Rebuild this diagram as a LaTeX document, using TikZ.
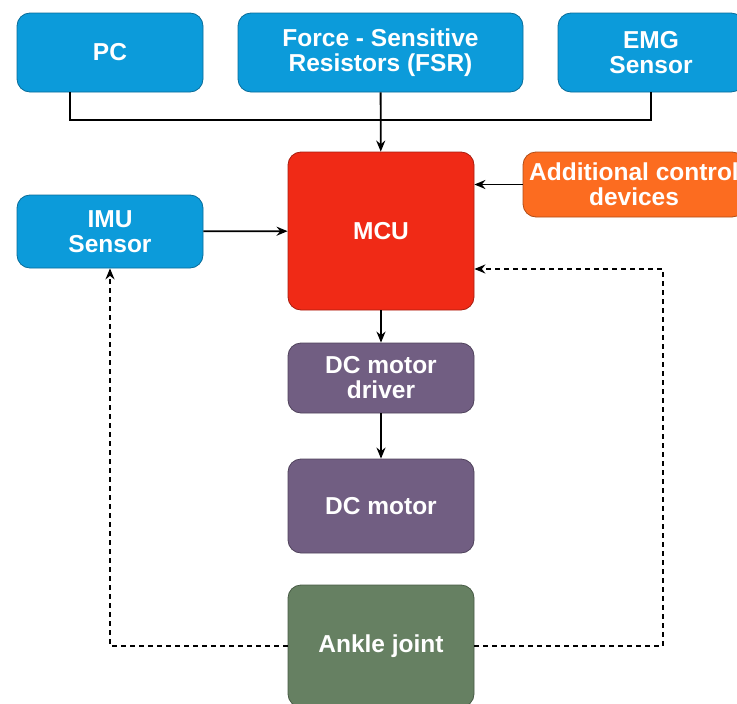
\documentclass[tikz,border=0pt]{standalone}
\usepackage{fontspec}
\setmainfont{Liberation Sans}
\usetikzlibrary{arrows.meta}
\definecolor{boxblue}{RGB}{12,155,218}
\definecolor{boxred}{RGB}{240,42,22}
\definecolor{boxorange}{RGB}{252,108,32}
\definecolor{boxpurple}{RGB}{113,94,130}
\definecolor{boxgreen}{RGB}{102,128,98}
\begin{document}
\begin{tikzpicture}[x=1pt, y=-1pt, line width=1.8pt, >={Stealth[length=11pt,width=9pt]},
	block/.style={rectangle, rounded corners=13pt, draw=#1!70!black, fill=#1, line width=0.8pt, text=white, font=\fontsize{24.5}{25}\selectfont\bfseries, align=center, inner sep=0pt},
	feedback/.style={dash pattern=on 5pt off 4pt}]
	\clip (0,0) rectangle (737,704);
	\node[block=boxblue, minimum width=186pt, minimum height=79pt] (pc) at (110,52.5) {PC};
	\node[block=boxblue, minimum width=285pt, minimum height=79pt] (fsr) at (380.5,52.5) {Force - Sensitive\\Resistors (FSR)};
	\node[block=boxblue, minimum width=186pt, minimum height=79pt] (emg) at (651,52.5) {EMG\\Sensor};
	\node[block=boxorange, minimum width=222pt, minimum height=65pt] (acd) at (634,184.5) {Additional control\\devices};
	\node[block=boxred, minimum width=186pt, minimum height=158pt] (mcu) at (381,231) {MCU};
	\node[block=boxblue, minimum width=186pt, minimum height=73pt] (imu) at (110,231.5) {IMU\\Sensor};
	\node[block=boxpurple, minimum width=186pt, minimum height=70pt] (drv) at (381,378) {DC motor\\driver};
	\node[block=boxpurple, minimum width=186pt, minimum height=94pt] (mot) at (381,506) {DC motor};
	\node[block=boxgreen, minimum width=186pt, minimum height=122pt] (ank) at (381,646) {Ankle joint};
	\coordinate (bus) at (380,120);
	\coordinate (fb) at (663,269);
	% inputs
	\draw ([xshift=-40pt]pc.south) |- (bus);
	\draw (emg.south) |- (bus);
	\draw[->] (fsr) -- (mcu);
	\draw[->] (acd.west) -- (acd.west -| mcu.east);
	\draw[->] (imu) -- (mcu);
	% drive chain
	\draw[->] (mcu) -- (drv);
	\draw[->] (drv) -- (mot);
	% feedback
	\draw[feedback, ->] (ank.west) -| (imu.south);
	\draw[feedback, ->] (ank.east) -| (fb) -- (fb -| mcu.east);
\end{tikzpicture}
\end{document}
